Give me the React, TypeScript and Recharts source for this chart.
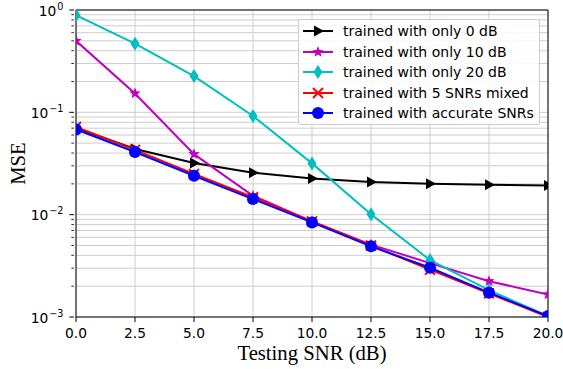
import React from "react";
import {
  LineChart,
  Line,
  XAxis,
  YAxis,
  CartesianGrid,
  ReferenceLine,
} from "recharts";

// Testing SNR (dB) on the x axis
const snr = [0, 2.5, 5, 7.5, 10, 12.5, 15, 17.5, 20];
const xTicks = [0, 2.5, 5, 7.5, 10, 12.5, 15, 17.5, 20];

// MSE per model
const only0 = [0.0703, 0.0438, 0.032, 0.0257, 0.0226, 0.0208, 0.02, 0.0196, 0.0193];
const only10 = [0.5, 0.153, 0.039, 0.0153, 0.0086, 0.0051, 0.00336, 0.00224, 0.00166];
const only20 = [0.89, 0.469, 0.226, 0.092, 0.0317, 0.0101, 0.0036, 0.00183, 0.00102];
const mixed = [0.072, 0.043, 0.025, 0.0148, 0.0086, 0.005, 0.0029, 0.0017, 0.001];
const accurate = [0.068, 0.041, 0.024, 0.0142, 0.0084, 0.0049, 0.00303, 0.00173, 0.00102];

const yMajor = [0.001, 0.01, 0.1, 1];
const yMajorExp = ["-3", "-2", "-1", "0"];
const yMinorFactors = [2, 3, 4, 5, 6, 7, 8, 9];

const seriesNames = [
  "trained with only 0 dB",
  "trained with only 10 dB",
  "trained with only 20 dB",
  "trained with 5 SNRs mixed",
  "trained with accurate SNRs",
];

const data = snr.map((s, i) => ({
  snr: s,
  only0: only0[i],
  only10: only10[i],
  only20: only20[i],
  mixed: mixed[i],
  accurate: accurate[i],
}));

const yTicks: number[] = [];
yMajor.forEach((m, i) => {
  yTicks.push(m);
  if (i < yMajor.length - 1) yMinorFactors.forEach((f) => yTicks.push(+(m * f).toPrecision(3)));
});

const SANS = "'DejaVu Sans', sans-serif";
const SERIF = "'Liberation Serif', 'Times New Roman', serif";
const TICK_FS = 13.8;
const LABEL_FS = 20.7;

type Kind = "tri" | "star" | "diamond" | "x" | "circle";

function Marker({ kind, color, cx, cy }: { kind: Kind; color: string; cx: number; cy: number }) {
  if (kind === "tri") {
    return <polygon points={`${cx + 6},${cy} ${cx - 4},${cy - 5.5} ${cx - 4},${cy + 5.5}`} fill={color} />;
  }
  if (kind === "star") {
    const pts: string[] = [];
    for (let k = 0; k < 10; k++) {
      const r = k % 2 === 0 ? 6 : 2.6;
      const a = -Math.PI / 2 + (k * Math.PI) / 5;
      pts.push(`${cx + r * Math.cos(a)},${cy + r * Math.sin(a)}`);
    }
    return <polygon points={pts.join(" ")} fill={color} />;
  }
  if (kind === "diamond") {
    return <polygon points={`${cx},${cy - 7} ${cx + 4.5},${cy} ${cx},${cy + 7} ${cx - 4.5},${cy}`} fill={color} />;
  }
  if (kind === "x") {
    return (
      <g stroke={color} strokeWidth={2}>
        <line x1={cx - 5} y1={cy - 5} x2={cx + 5} y2={cy + 5} />
        <line x1={cx - 5} y1={cy + 5} x2={cx + 5} y2={cy - 5} />
      </g>
    );
  }
  return <circle cx={cx} cy={cy} r={6} fill={color} />;
}

const series: { key: string; color: string; kind: Kind }[] = [
  { key: "only0", color: "#000000", kind: "tri" },
  { key: "only10", color: "#bf00bf", kind: "star" },
  { key: "only20", color: "#00bfbf", kind: "diamond" },
  { key: "mixed", color: "#ff0000", kind: "x" },
  { key: "accurate", color: "#0000ff", kind: "circle" },
];

function YTick(props: any) {
  const { x, y, payload } = props;
  const idx = yMajor.indexOf(payload.value);
  const major = idx >= 0;
  return (
    <g>
      <line x1={x} x2={x - (major ? 4.7 : 2.7)} y1={y} y2={y} stroke="#000" strokeWidth={major ? 1 : 0.8} />
      {major && (
        <text x={x - 10.5} y={y + 5.5} textAnchor="end" fontFamily={SANS} fontSize={TICK_FS} fill="#000">
          10
          <tspan fontSize={9.7} dx={1} dy={-5.7}>
            {yMajorExp[idx].replace("-", "\u2212")}
          </tspan>
        </text>
      )}
    </g>
  );
}

function LegendBox() {
  return (
    <div
      style={{
        position: "absolute",
        left: 298,
        top: 19,
        width: 242,
        height: 106,
        border: "1px solid #cccccc",
        borderRadius: 3,
        background: "rgba(255,255,255,0.85)",
        fontFamily: SANS,
        fontSize: 14,
        color: "#000",
        boxSizing: "border-box",
        paddingTop: 1,
      }}
    >
      {series.map((s, i) => (
        <div key={s.key} style={{ display: "flex", alignItems: "center", height: 20.5 }}>
          <svg width={44} height={16} style={{ flex: "none" }}>
            <line x1={4} x2={34} y1={8} y2={8} stroke={s.color} strokeWidth={2} />
            <Marker kind={s.kind} color={s.color} cx={19} cy={8} />
          </svg>
          <span style={{ whiteSpace: "nowrap" }}>{seriesNames[i]}</span>
        </div>
      ))}
    </div>
  );
}

export default function App() {
  return (
    <div style={{ position: "absolute", left: 0, top: 0, width: 563, height: 369, background: "#fff" }}>
      <LineChart width={563} height={369} data={data} margin={{ top: 10, right: 15, bottom: 0, left: 0 }}>
        <CartesianGrid stroke="#c8c8c8" strokeWidth={0.9} horizontalValues={yTicks} verticalValues={xTicks} />
        <XAxis
          dataKey="snr"
          type="number"
          domain={[0, 20]}
          ticks={xTicks}
          allowDataOverflow
          height={52}
          tickFormatter={(v: number) => v.toFixed(1)}
          tick={{ fontFamily: SANS, fontSize: TICK_FS, fill: "#000" }}
          tickSize={5}
          tickMargin={6.5}
          stroke="#000"
          tickLine={{ stroke: "#000" }}
          label={{
            value: "Testing SNR (dB)",
            position: "insideBottom",
            offset: 9,
            style: { fontFamily: SERIF, fontSize: LABEL_FS, fill: "#000" },
          }}
        />
        <YAxis
          scale="log"
          domain={[0.001, 1]}
          ticks={yTicks}
          allowDataOverflow
          width={76}
          interval={0}
          tickSize={0}
          tickLine={false}
          tick={<YTick />}
          stroke="#000"
          label={{
            content: () => (
              <text
                x={25}
                y={163.5}
                transform="rotate(-90, 25, 163.5)"
                textAnchor="middle"
                fontFamily={SERIF}
                fontSize={LABEL_FS}
                fill="#000"
              >
                MSE
              </text>
            ),
          }}
        />
        <ReferenceLine y={1} stroke="#000" strokeWidth={1} />
        <ReferenceLine x={20} stroke="#000" strokeWidth={1} />
        {series.map((s) => (
          <Line
            key={s.key}
            dataKey={s.key}
            stroke={s.color}
            strokeWidth={2}
            isAnimationActive={false}
            dot={(p: any) => <Marker key={`${s.key}-${p.index}`} kind={s.kind} color={s.color} cx={p.cx} cy={p.cy} />}
            activeDot={false}
          />
        ))}
      </LineChart>
      <LegendBox />
    </div>
  );
}
